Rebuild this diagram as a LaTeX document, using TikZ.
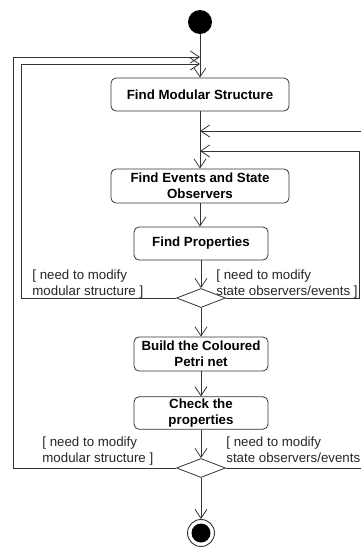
\documentclass[tikz,border=0pt]{standalone}
\usepackage{fontspec}
\setmainfont{Liberation Sans}
\usetikzlibrary{arrows.meta,shapes.geometric}

\begin{document}
\begin{tikzpicture}[
    x=1pt, y=-1pt,
    line width=0.8pt, draw=black!80,
    >={Straight Barb[length=9pt,width=12pt,line width=0.8pt]},
    action/.style={
        draw=black!80,
        rectangle,
        rounded corners=5pt,
        minimum height=33pt,
        align=center,
        inner sep=2pt,
        font=\fontsize{13.3}{16}\selectfont\bfseries
    },
    choice/.style={
        draw=black!80,
        diamond,
        aspect=2.6,
        minimum width=49pt,
        minimum height=19pt,
        inner sep=0pt
    },
    guard/.style={
        align=left,
        inner sep=0pt,
        anchor=north west,
        text=black!85,
        font=\fontsize{13.3}{16}\selectfont
    },
    flow/.style={->, draw=black!80}
]
\useasboundingbox (0,0) rectangle (361,547);

\node[circle, fill=black, minimum size=24pt, inner sep=0pt] (start) at (200,22) {};

\node[action, minimum width=178pt] (modular) at (200,94.5) {Find Modular Structure};
\node[action, minimum width=178pt, minimum height=34pt] (events) at (200,186) {Find Events and State\\Observers};
\node[action, minimum width=134pt] (props) at (201,243.5) {Find Properties};
\node[choice] (check1) at (201,298) {};
\node[action, minimum width=134pt, minimum height=34pt] (petri) at (201,354) {Build the Coloured\\Petri net};
\node[action, minimum width=134pt, minimum height=32pt] (verify) at (201,413) {Check the\\properties};
\node[choice] (check2) at (201,468) {};

\node[circle, draw=black!80, line width=0.9pt, minimum size=27pt, inner sep=0pt] (stop) at (201,533) {};
\node[circle, fill=black, minimum size=19pt, inner sep=0pt] at (stop) {};

% guards
\node[guard] (g1) at (32,269) {[ need to modify\\modular structure ]};
\node[guard] (g2) at (216,269) {[ need to modify\\state observers/events ]};
\node[guard] (g3) at (42,436) {[ need to modify\\modular structure ]};
\node[guard] (g4) at (226,436) {[ need to modify\\state observers/events};

% loop corners and joins
\coordinate (inner left) at (21,64);
\coordinate (outer left) at (13,57);
\coordinate (inner right) at (359.5,151);
\coordinate (outer right) at (363,131);
\coordinate (join1) at (200,64);
\coordinate (join2) at (200,57);
\coordinate (join3) at (200,151);
\coordinate (join4) at (200,131);

\draw[flow] (start) -- (modular);
\draw[flow] (modular) -- (events);
\draw[flow] (events) -- (props.north -| events.south);
\draw[flow] (props) -- (check1);
\draw[flow] (check1) -- (petri);
\draw[flow] (petri) -- (verify);
\draw[flow] (verify) -- (check2);
\draw[flow] (check2) -- (stop);

\draw[flow] (check1.west) -| (inner left) -- (join1);
\draw[flow] (check2.west) -| (outer left) -- (join2);
\draw[flow] (check1.east) -| (inner right) -- (join3);
\draw[flow] (check2.east) -| (outer right) -- (join4);

\end{tikzpicture}
\end{document}
